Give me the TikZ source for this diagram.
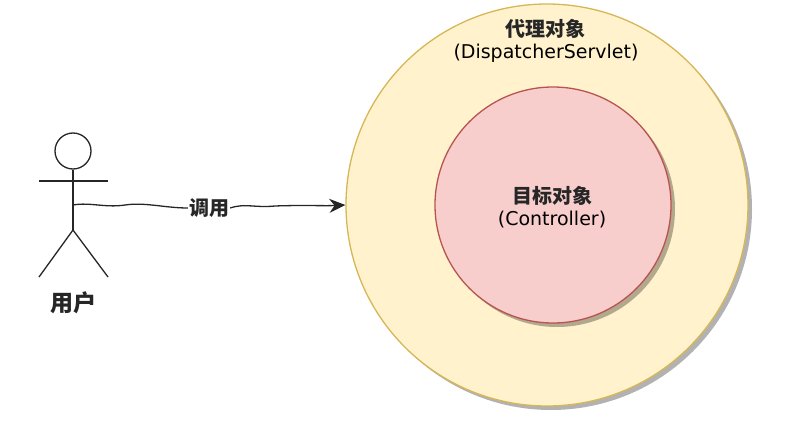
\documentclass[tikz,border=0pt]{standalone}
\usepackage{fontspec}
\setmainfont{DejaVu Sans}
\newfontfamily\cjkfont{Noto Sans CJK SC}
\usetikzlibrary{arrows.meta,shadows}
\definecolor{proxyfill}{HTML}{FFF2CC}
\definecolor{proxyline}{HTML}{D6B656}
\definecolor{targetfill}{HTML}{F8CECC}
\definecolor{targetline}{HTML}{B85450}
\tikzset{
  ball/.style={circle, draw, line width=1.3pt, inner sep=0pt,
    drop shadow={shadow xshift=4pt, shadow yshift=-4pt, fill=black, opacity=0.3}},
  limb/.style={draw=black!85, line width=1.3pt},
  lbl/.style={align=center, text=black, font=\fontsize{19}{23}\selectfont},
  lblcjk/.style={text=black!85, font=\fontsize{20}{24}\selectfont\cjkfont\bfseries}
}
\begin{document}
\begin{tikzpicture}[x=1pt, y=-1pt]
    \useasboundingbox (0,0) rectangle (812,423);

    % cercuri
    \node[ball, fill=proxyfill, draw=proxyline, minimum size=402pt] (proxy) at (547,205) {};
    \node[ball, fill=targetfill, draw=targetline, minimum size=236pt] (target) at (553,205) {};

    \node[lblcjk] (proxyname) at (545,29) {代理对象};
    \node[lbl] (proxyclass) at (546,53) {(DispatcherServlet)};
    \node[lblcjk] (targetname) at (552,196) {目标对象};
    \node[lbl] (targetclass) at (552,220) {(Controller)};

    % omulet
    \node[circle, limb, minimum size=36pt, inner sep=0pt] (head) at (73,151) {};
    \coordinate (neck) at (73,181);
    \coordinate (armleft) at (39,181);
    \coordinate (armright) at (108,181);
    \coordinate (hip) at (73,205);
    \coordinate (crotch) at (73,230);
    \coordinate (footleft) at (39,277);
    \coordinate (footright) at (108,277);
    \draw[limb] (head.south) -- (crotch);
    \draw[limb] (armleft) -- (armright);
    \draw[limb] (footleft) -- (crotch) -- (footright);
    \node[lblcjk, font=\fontsize{23}{27}\selectfont\cjkfont\bfseries] (user) at (73,303) {用户};

    % sageata
    \node[lblcjk, fill=white, inner sep=1pt] (call) at (209,208) {调用};
    \draw[limb] (hip) .. controls (90,202) and (105,208) .. (125,205)
      .. controls (145,202) and (165,208) .. (call.west);
    \draw[limb, -{Stealth[length=16pt, width=14pt]}] (call.east)
      .. controls (245,203) and (255,208) .. (275,206)
      .. controls (300,205) and (325,206) .. (proxy.west);

\end{tikzpicture}
\end{document}
